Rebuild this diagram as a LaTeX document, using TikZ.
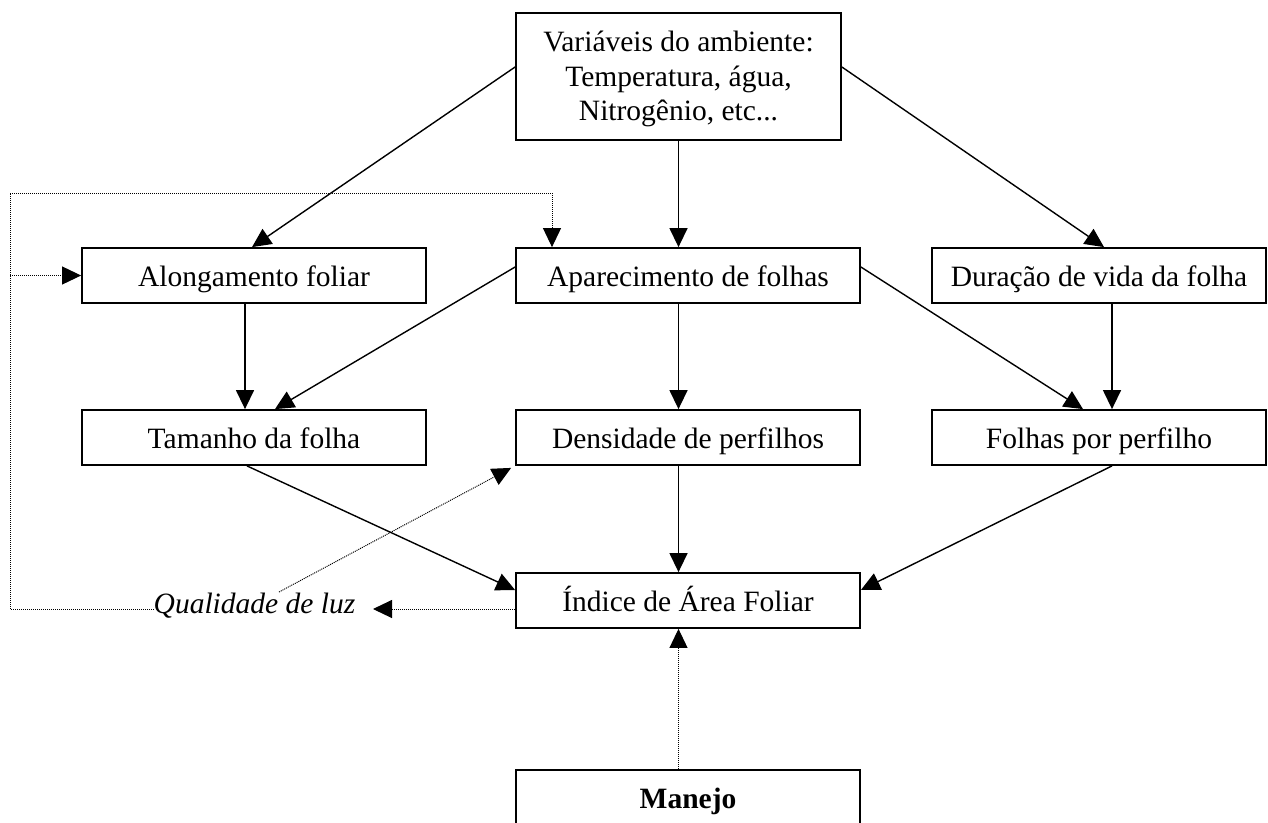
\documentclass[tikz,border=0pt]{standalone}
\usepackage{fontspec}
\setmainfont{Liberation Serif}
\usetikzlibrary{arrows.meta,calc}
\begin{document}
\begin{tikzpicture}[x=1pt,y=-1pt,
  txt/.style={font=\fontsize{29.5}{34.5}\selectfont},
  box/.style={txt, draw, line width=1.8pt, minimum height=55pt, inner sep=0pt, anchor=center},
  single/.style={box, text height=28pt, text depth=7pt},
  flow/.style={line width=1.4pt, -{Triangle[length=19pt,width=18pt]}},
  fbline/.style={line width=1pt, dash pattern=on 1pt off 1pt},
  fb/.style={fbline, -{Triangle[length=19pt,width=18pt]}}]
\useasboundingbox (0,0) rectangle (1268,822);

% boxes
\node[box, minimum width=325pt, minimum height=127pt] (env) at (678.5,76.5) {};
\node[txt, align=center, inner sep=0pt] (envtext) at (678.5,79) 
  {Variáveis do ambiente:\\Temperatura, água,\\Nitrogênio, etc...};
\node[single, minimum width=344pt] (along) at (254,275.5) {Alongamento foliar};
\node[single, minimum width=344pt] (apar) at (688,275.5) {Aparecimento de folhas};
\node[single, minimum width=334pt] (dur) at (1099,275.5) {Duração de vida da folha};
\node[single, minimum width=344pt] (tam) at (254,437.5) {Tamanho da folha};
\node[single, minimum width=344pt] (dens) at (688,437.5) {Densidade de perfilhos};
\node[single, minimum width=334pt] (folhas) at (1099,437.5) {Folhas por perfilho};
\node[single, minimum width=344pt] (iaf) at (688,600.5) {Índice de Área Foliar};
\node[single, minimum width=344pt] (manejo) at (688,797.5) {\bfseries Manejo};
\node[txt, inner sep=0pt, text height=21pt, text depth=7pt] (luz) at (254.5,606) {\itshape Qualidade de luz};

% solid influences
\draw[flow] ([yshift=9.5pt]env.west) -- ([xshift=-2pt]along.north);
\draw[flow] (env.south) -- (env.south |- apar.north);
\draw[flow] ([yshift=9.5pt]env.east) -- ([xshift=5pt]dur.north);
\draw[flow] ([xshift=-9pt]along.south) -- ([xshift=-9pt]tam.north);
\draw[flow] ([yshift=8.5pt]apar.west) -- ([xshift=21pt]tam.north);
\draw[flow] (env.south |- apar.south) -- (env.south |- dens.north);
\draw[flow] ([yshift=8.5pt]apar.east) -- ([xshift=-16pt]folhas.north);
\draw[flow] ([xshift=13pt]dur.south) -- ([xshift=13pt]folhas.north);
\draw[flow] ([xshift=-7pt]tam.south) -- ([yshift=10.5pt]iaf.west);
\draw[flow] (env.south |- dens.south) -- (env.south |- iaf.north);
\draw[flow] ([xshift=13pt]folhas.south) -- ([yshift=10.5pt]iaf.east);

% management
\draw[fb] (env.south |- manejo.north) -- (env.south |- iaf.south);

% light quality feedback
\coordinate (luztip) at (373,609);
\coordinate (loopB) at (10,609);
\coordinate (loopT) at (10,193);
\coordinate (apartop) at ([xshift=-136pt]apar.north);
\coordinate (luzq) at (279,592);
\draw[fb] ([yshift=-8.5pt]iaf.west) -- (luztip);
\draw[fb] (luz.west |- luztip) -- (loopB) -- (loopT) -- (loopT -| apartop) -- (apartop);
\draw[fb] (loopT |- along.west) -- (along.west);
\draw[fb] (luzq) -- ([xshift=-4pt,yshift=-2pt]dens.south west);
\end{tikzpicture}
\end{document}
